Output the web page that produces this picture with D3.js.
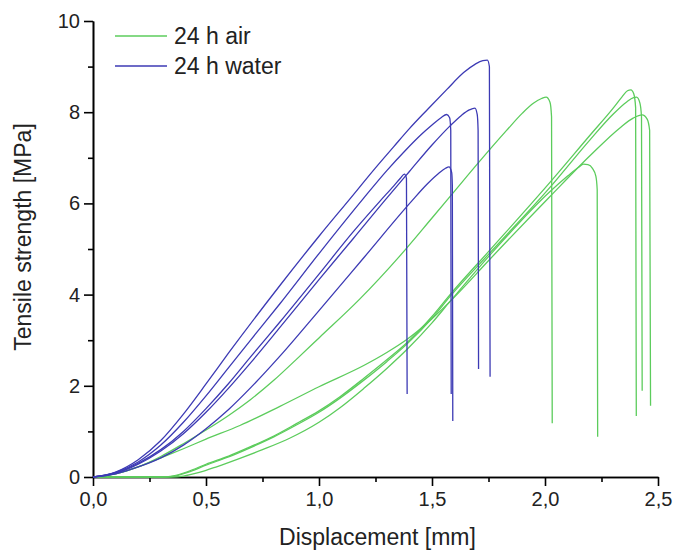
<!DOCTYPE html>
<html>
<head>
<meta charset="utf-8">
<script src="https://cdn.jsdelivr.net/npm/d3@7"></script>
<style>
  body { margin: 0; background: #fff; }
  text { font-family: "Liberation Sans", Arial, sans-serif; }
</style>
</head>
<body>
<div id="chart"></div>
<script>
// tick labels
var xTicks = [0, 0.5, 1.0, 1.5, 2.0, 2.5]
var xMinor = [0.25, 0.75, 1.25, 1.75, 2.25]
var yTicks = [0, 2, 4, 6, 8, 10]
var yMinor = [1, 3, 5, 7, 9]
var seriesNames = ["24 h air", "24 h water"]

// 24 h water specimens [displacement mm, strength MPa]
var water1 = [[0,0],[0.1,0.11],[0.2,0.38],[0.3,0.8],[0.4,1.38],[0.5,2.04],[0.6,2.72],[0.827,4.2],[1.0,5.28],[1.137,6.1],[1.25,6.78],[1.33,7.24],[1.4,7.64],[1.48,8.06],[1.566,8.5],[1.64,8.87],[1.69,9.05],[1.725,9.13],[1.745,9.14],[1.754,9.0],[1.757,2.2]]
var water2 = [[0,0],[0.1,0.1],[0.2,0.33],[0.3,0.7],[0.4,1.2],[0.5,1.78],[0.6,2.4],[0.7,3.02],[0.827,3.8],[1.0,4.9],[1.195,6.1],[1.3,6.72],[1.38,7.15],[1.45,7.5],[1.5,7.72],[1.54,7.88],[1.565,7.95],[1.578,7.88],[1.583,7.6],[1.585,1.82]]
var water3 = [[0,0],[0.1,0.09],[0.2,0.3],[0.3,0.6],[0.4,1.0],[0.5,1.5],[0.6,2.05],[0.7,2.65],[0.827,3.4],[1.0,4.45],[1.15,5.37],[1.27,6.05],[1.33,6.38],[1.36,6.55],[1.378,6.64],[1.387,6.55],[1.39,1.82]]
var water4 = [[0,0],[0.1,0.08],[0.2,0.28],[0.3,0.57],[0.4,0.95],[0.5,1.42],[0.6,1.95],[0.7,2.52],[0.827,3.28],[1.0,4.33],[1.15,5.22],[1.297,6.1],[1.4,6.7],[1.5,7.28],[1.58,7.7],[1.63,7.93],[1.665,8.05],[1.69,8.09],[1.7,7.95],[1.704,7.6],[1.706,2.37]]
var water5 = [[0,0],[0.1,0.07],[0.2,0.22],[0.3,0.42],[0.4,0.7],[0.5,1.06],[0.6,1.48],[0.7,1.97],[0.827,2.65],[1.0,3.65],[1.2,4.82],[1.41,6.05],[1.48,6.43],[1.53,6.66],[1.56,6.77],[1.575,6.8],[1.587,6.68],[1.59,6.4],[1.592,1.23]]

// 24 h air specimens
var air1 = [[0,0],[0.1,0.07],[0.2,0.22],[0.3,0.45],[0.4,0.73],[0.5,1.03],[0.6,1.35],[0.695,1.69],[0.8,2.12],[0.9,2.58],[1.0,3.05],[1.18,3.9],[1.358,4.85],[1.5,5.68],[1.6,6.27],[1.7,6.86],[1.83,7.6],[1.9,7.98],[1.95,8.2],[1.985,8.3],[2.005,8.33],[2.022,8.22],[2.029,7.9],[2.032,1.18]]
var air2 = [[0,0],[0.1,0.07],[0.2,0.22],[0.3,0.42],[0.4,0.62],[0.5,0.83],[0.65,1.13],[0.827,1.55],[1.0,1.98],[1.2,2.45],[1.3,2.73],[1.39,3.02],[1.5,3.47],[1.6,3.95],[1.757,4.78],[2.02,6.14],[2.2,7.05],[2.33,7.65],[2.39,7.87],[2.43,7.94],[2.452,7.85],[2.463,7.6],[2.467,1.56]]
var air3 = [[0,0],[0.3,0],[0.35,0.02],[0.42,0.12],[0.5,0.28],[0.6,0.46],[0.695,0.66],[0.8,0.9],[0.9,1.17],[1.0,1.45],[1.093,1.76],[1.2,2.17],[1.3,2.57],[1.39,2.95],[1.5,3.52],[1.58,4.0],[1.757,4.98],[2.02,6.45],[2.2,7.5],[2.3,8.08],[2.34,8.33],[2.365,8.47],[2.38,8.49],[2.393,8.4],[2.401,8.1],[2.404,1.34]]
var air4 = [[0,0],[0.31,0],[0.36,0.02],[0.43,0.12],[0.5,0.26],[0.6,0.44],[0.695,0.64],[0.8,0.88],[0.9,1.14],[1.0,1.42],[1.093,1.73],[1.2,2.13],[1.3,2.53],[1.39,2.92],[1.5,3.48],[1.58,3.96],[1.757,4.92],[2.02,6.34],[2.2,7.4],[2.3,7.95],[2.36,8.22],[2.392,8.32],[2.405,8.33],[2.42,8.2],[2.427,7.9],[2.43,1.89]]
var air5 = [[0,0],[0.35,0],[0.4,0.02],[0.47,0.1],[0.55,0.23],[0.65,0.41],[0.75,0.6],[0.87,0.85],[1.0,1.2],[1.093,1.52],[1.2,1.95],[1.3,2.38],[1.39,2.8],[1.5,3.38],[1.58,3.85],[1.757,4.87],[2.02,6.25],[2.1,6.6],[2.15,6.8],[2.17,6.86],[2.19,6.85],[2.21,6.77],[2.225,6.6],[2.231,6.3],[2.233,0.88]]

var waterCurves = [water1, water2, water3, water4, water5]
var airCurves = [air1, air2, air3, air4, air5]

var colors = ["#5ccc5c", "#3c3ab4"]

var width = 675
var height = 550
var margin = {left: 93, right: 17, top: 21, bottom: 73}

var svg = d3.select("#chart").append("svg")
    .attr("width", width)
    .attr("height", height)

var x = d3.scaleLinear().domain([0, 2.5]).range([margin.left, width - margin.right])
var y = d3.scaleLinear().domain([0, 10]).range([height - margin.bottom, margin.top])

var fmt = function (d) { return d3.format(".1f")(d).replace(".", ",") }

// minor ticks first
svg.append("g")
    .attr("transform", "translate(0," + y(0) + ")")
    .call(d3.axisBottom(x).tickValues(xMinor).tickSize(5).tickSizeOuter(0).tickFormat(""))
svg.append("g")
    .attr("transform", "translate(" + x(0) + ",0)")
    .call(d3.axisLeft(y).tickValues(yMinor).tickSize(5).tickSizeOuter(0).tickFormat(""))

svg.append("g")
    .attr("transform", "translate(0," + y(0) + ")")
    .call(d3.axisBottom(x).tickValues(xTicks).tickSize(9).tickSizeOuter(0).tickPadding(6).tickFormat(fmt))
svg.append("g")
    .attr("transform", "translate(" + x(0) + ",0)")
    .call(d3.axisLeft(y).tickValues(yTicks).tickSize(9).tickSizeOuter(0).tickPadding(4).tickFormat(d3.format("d")))

svg.selectAll(".domain, .tick line").attr("stroke", "#000").attr("stroke-width", 1.6)
svg.selectAll(".tick text").attr("font-size", 20).attr("fill", "#222")
    .style("font-family", "'Liberation Sans', Arial, sans-serif")

// curves
var line = d3.line()
    .x(function (d) { return x(d[0]) })
    .y(function (d) { return y(d[1]) })
    .curve(d3.curveMonotoneX)

svg.append("g").selectAll("path")
    .data(airCurves)
    .enter().append("path")
    .attr("d", line)
    .attr("fill", "none")
    .attr("stroke", colors[0])
    .attr("stroke-width", 1.3)

svg.append("g").selectAll("path")
    .data(waterCurves)
    .enter().append("path")
    .attr("d", line)
    .attr("fill", "none")
    .attr("stroke", colors[1])
    .attr("stroke-width", 1.3)

// legend
var legend = svg.append("g").selectAll("g")
    .data(seriesNames)
    .enter().append("g")
    .attr("transform", function (d, i) { return "translate(115," + (36 + i * 30) + ")" })
legend.append("line")
    .attr("x1", 0).attr("x2", 52)
    .attr("stroke", function (d, i) { return colors[i] })
    .attr("stroke-width", 1.5)
legend.append("text")
    .attr("x", 59)
    .attr("dy", "0.36em")
    .attr("font-size", 23)
    .attr("fill", "#222")
    .text(function (d) { return d })

// axis titles
svg.append("text")
    .attr("x", (x(0) + x(2.5)) / 2 + 2)
    .attr("y", 545)
    .attr("text-anchor", "middle")
    .attr("font-size", 23)
    .attr("fill", "#222")
    .text("Displacement [mm]")

svg.append("text")
    .attr("transform", "translate(31," + 237 + ") rotate(-90)")
    .attr("text-anchor", "middle")
    .attr("font-size", 23)
    .attr("fill", "#222")
    .text("Tensile strength [MPa]")
</script>
</body>
</html>
